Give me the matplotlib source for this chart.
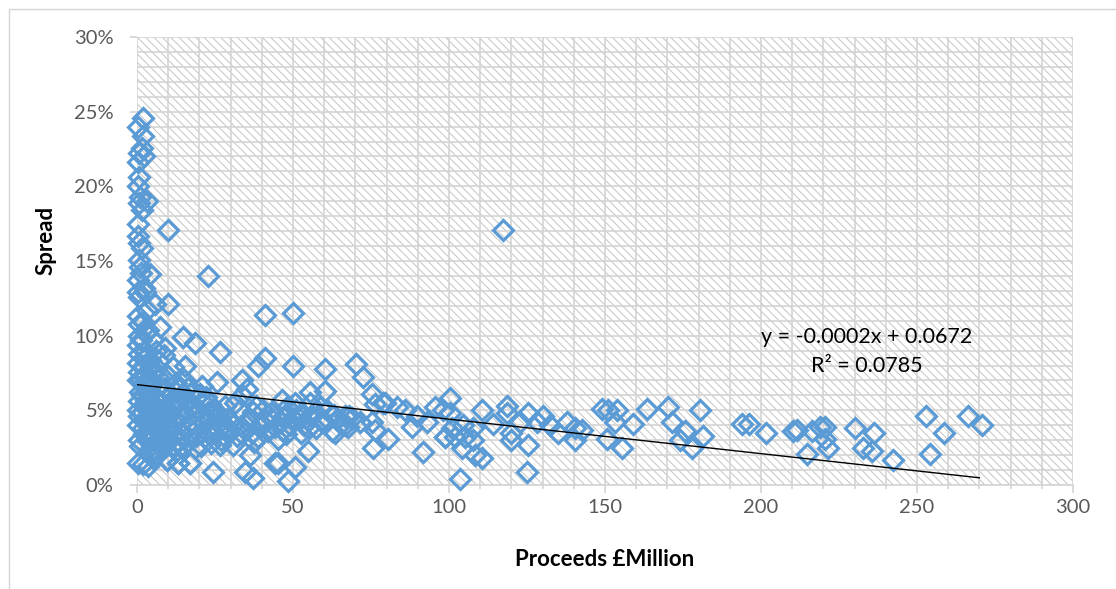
import numpy as np
import matplotlib
matplotlib.use("Agg")
import matplotlib.pyplot as plt
from matplotlib.patches import Rectangle
from matplotlib.ticker import MultipleLocator, PercentFormatter

plt.rcParams['font.family'] = ['Lato', 'DejaVu Sans']
plt.rcParams['hatch.linewidth'] = 0.7

# spread in %, proceeds in £ million
# left column, tiny issues
proceeds_a = [0.3, 0.5, 0.2, 0.8, 0.4, 1.0, 0.6, 0.3, 0.2, 0.7, 0.5, 0.9, 0.4, 0.3, 0.6,
              0.2, 0.8, 0.5, 0.3, 0.7, 0.4, 0.6, 0.2, 0.9, 0.5, 0.3, 0.8, 0.4, 0.6, 0.2]
spread_a = [24.0, 22.2, 21.6, 20.6, 20.0, 19.3, 18.9, 17.5, 16.7, 16.2, 15.1, 14.6, 13.7, 12.9, 12.6,
            11.3, 10.8, 10.0, 9.4, 8.8, 8.2, 7.6, 7.0, 6.2, 5.6, 5.0, 4.6, 4.0, 3.0, 1.5]

proceeds_b = [2.0, 2.0, 1.6, 2.4, 1.6, 3.2, 1.6, 2.6, 1.2, 3.2, 2.2, 1.8, 2.8, 1.4, 2.5, 3.0,
              1.9, 2.7, 1.3, 2.1, 3.4, 1.7, 2.9, 2.3, 1.5, 3.1, 2.6, 1.8, 2.4, 3.3, 1.1, 2.0]
spread_b = [24.6, 23.4, 22.6, 22.0, 18.4, 19.0, 15.9, 12.9, 14.2, 11.7, 13.2, 10.9, 10.2, 9.7, 9.0, 8.6,
            8.0, 7.4, 7.1, 6.8, 6.4, 6.0, 5.7, 5.3, 4.9, 4.5, 4.2, 3.8, 3.4, 3.0, 2.6, 1.4]

proceeds_c = [4.2, 5.8, 7.4, 4.2, 3.6, 5.0, 6.2, 4.6, 7.0, 5.4, 3.8, 6.6, 4.4, 5.2, 7.8, 3.9, 6.0,
              4.8, 5.6, 7.2, 4.0, 6.4, 5.0, 3.7, 7.6, 4.5, 5.9, 6.8, 4.3, 5.3, 7.1, 3.5, 6.1, 4.7,
              5.5, 7.9, 4.1, 6.3, 5.1, 6.9]
spread_c = [14.1, 12.1, 10.6, 8.4, 10.4, 9.8, 9.0, 7.9, 8.3, 7.5, 7.0, 7.2, 6.6, 6.9, 6.3, 6.0, 5.9,
            5.5, 5.2, 5.6, 5.0, 4.9, 4.6, 4.4, 4.5, 4.1, 3.9, 4.0, 3.6, 3.3, 3.5, 3.1, 2.9, 2.7,
            2.4, 2.8, 2.2, 2.0, 1.8, 3.0]

proceeds_d = [9.0, 9.6, 8.5, 11.5, 10.0, 12.6, 8.8, 13.4, 10.8, 9.3, 14.0, 11.2, 12.0, 8.6, 13.0,
              10.4, 9.8, 14.6, 11.8, 12.8, 9.1, 10.6, 13.8, 8.9, 11.0, 12.3, 14.3, 9.5, 10.2, 13.1,
              11.6, 8.4, 12.5, 14.8]
spread_d = [9.2, 1.7, 8.7, 7.9, 7.3, 6.8, 6.5, 6.4, 6.0, 5.8, 5.9, 5.5, 5.3, 5.1, 5.4,
            5.0, 4.7, 4.9, 4.5, 4.3, 4.4, 4.0, 4.1, 3.8, 3.7, 3.5, 3.4, 3.2, 3.0, 2.9,
            2.7, 2.5, 2.3, 2.6]

proceeds_e = [13.1, 17.0, 14.4, 18.6, 15.4, 15.0, 18.0, 16.4, 20.8, 20.2, 19.0, 22.0, 16.8, 21.4,
              17.6, 23.5, 19.6, 24.8, 18.2, 22.6, 25.6, 20.0, 26.4, 17.2, 21.0, 23.0, 27.8, 19.4,
              24.0, 28.5, 22.2, 26.0, 29.4, 18.8, 21.8, 25.0, 27.0, 16.0, 23.8, 20.6]
spread_e = [1.5, 1.5, 2.5, 2.5, 8.0, 7.0, 6.3, 6.5, 6.6, 6.1, 5.8, 5.9, 5.6, 5.5,
            5.2, 5.4, 5.0, 5.1, 4.8, 4.9, 4.7, 4.5, 4.6, 4.2, 4.3, 4.4, 4.1, 3.9,
            4.0, 3.8, 3.6, 3.7, 3.5, 3.3, 3.2, 3.4, 3.0, 2.9, 2.8, 2.6]

proceeds_f = [25.6, 33.7, 35.3, 26.6, 30.8, 31.5, 33.0, 35.6, 37.2, 38.8, 36.0, 39.4, 41.5, 43.0,
              44.2, 42.0, 45.2, 46.0, 47.0, 48.0, 49.0, 44.2, 34.0, 29.0, 32.0, 40.5, 38.0, 36.8,
              42.8, 46.8, 31.0, 28.2, 33.6, 37.6, 47.6]
spread_f = [6.9, 7.0, 6.4, 2.7, 2.7, 5.5, 5.0, 4.2, 4.9, 3.2, 4.5, 3.9, 4.3, 4.8,
            3.9, 3.6, 3.1, 4.2, 4.6, 5.2, 4.0, 1.5, 3.8, 4.4, 3.3, 5.0, 5.3, 3.5,
            4.5, 3.7, 4.1, 5.3, 6.0, 2.9, 3.4]

proceeds_g = [50.0, 51.0, 52.2, 53.0, 54.0, 55.0, 56.0, 57.0, 58.5, 60.3, 62.5, 64.0, 66.7, 68.0,
              52.5, 55.5, 57.5, 59.0, 61.0, 63.0, 65.5, 67.5, 69.0, 50.5, 53.5]
spread_g = [4.5, 5.0, 4.4, 4.8, 4.1, 3.8, 4.6, 4.9, 5.2, 4.2, 3.6, 4.4, 4.0, 4.6,
            3.5, 5.5, 3.8, 4.3, 5.0, 4.7, 4.1, 3.9, 4.5, 5.5, 4.0]

# scattered points up to ~100
proceeds_h = [10.0, 117.3, 22.8, 10.0, 14.7, 18.6, 26.6, 41.0, 50.0, 41.0, 38.8, 50.0, 60.3, 70.2,
              72.4, 55.4, 60.3, 75.3, 46.5, 76.3, 79.5, 83.3, 86.0, 95.5, 71.5, 75.3, 76.3, 75.6,
              80.4, 88.1, 89.7, 93.0, 91.7, 98.7, 24.4, 34.6, 37.2, 36.2, 48.4, 50.6, 45.2, 54.8,
              63.5, 66.7, 78.8, 9.6, 13.1, 17.0, 3.5]
spread_h = [17.1, 17.1, 14.0, 12.1, 9.9, 9.5, 8.9, 11.4, 11.5, 8.5, 8.0, 8.0, 7.8, 8.1,
            7.2, 6.2, 6.3, 6.1, 5.7, 5.4, 5.5, 5.2, 5.0, 5.2, 4.2, 4.2, 3.7, 2.5,
            3.1, 3.9, 4.6, 4.2, 2.2, 3.2, 0.9, 0.9, 0.5, 2.0, 0.3, 1.2, 1.5, 2.3,
            3.5, 4.6, 5.5, 1.7, 1.5, 1.5, 1.3]

proceeds_i = [100.3, 98.0, 100.3, 101.0, 98.7, 102.0, 104.5, 107.7, 105.0, 107.7, 104.2, 108.3,
              110.6, 110.6, 103.5, 114.0, 118.6, 118.6, 120.0, 120.0, 122.8, 125.3, 125.3, 125.0,
              128.2, 130.1, 132.4, 135.0, 137.8, 140.4, 140.4, 142.6]
spread_i = [5.8, 5.0, 4.8, 3.8, 3.2, 3.2, 4.0, 3.8, 3.2, 3.0, 2.5, 2.0,
            1.8, 5.0, 0.4, 4.1, 5.3, 4.8, 3.5, 3.0, 4.2, 4.8, 2.7, 0.9,
            4.2, 4.6, 4.0, 3.5, 4.2, 3.8, 3.0, 3.7]

proceeds_j = [149.0, 151.0, 153.8, 153.2, 150.6, 155.4, 159.0, 163.5, 170.2, 171.5, 175.6, 174.0,
              178.0, 180.4, 181.4, 193.9, 196.0, 201.6, 210.3, 211.5, 214.7, 216.3, 218.9, 220.5,
              220.5, 221.4, 230.0, 232.7, 235.6, 236.2, 242.3, 252.9, 254.2, 258.7, 266.3, 270.8]
spread_j = [5.1, 5.0, 5.0, 4.2, 3.1, 2.5, 4.1, 5.1, 5.2, 4.2, 3.6, 3.0,
            2.5, 5.0, 3.3, 4.1, 4.1, 3.5, 3.6, 3.7, 2.1, 3.6, 3.9, 3.9,
            3.1, 2.5, 3.8, 2.5, 2.3, 3.5, 1.7, 4.6, 2.1, 3.5, 4.6, 4.0]

# linear trend as printed in the chart (line drawn 0 -> 270)
trend_slope = -0.000231
trend_intercept = 0.0672
trend_x = [0, 270]
eq_text = "y = -0.0002x + 0.0672"
r2_text = "R² = 0.0785"

proceeds = np.array(proceeds_a + proceeds_b + proceeds_c + proceeds_d + proceeds_e +
                    proceeds_f + proceeds_g + proceeds_h + proceeds_i + proceeds_j)
spread = np.array(spread_a + spread_b + spread_c + spread_d + spread_e +
                  spread_f + spread_g + spread_h + spread_i + spread_j)

blue = '#5B9BD5'
grid_col = '#d4d4d4'
tick_col = '#595959'

fig = plt.figure(figsize=(11.16, 5.89), dpi=100)
ax = fig.add_axes([137/1116, 1-485/589, 936/1116, 448/589])

# hatched plot area like the excel pattern fill
ax.patch.set_facecolor('white')
ax.patch.set_hatch('\\\\\\\\')
ax.patch.set_edgecolor('#c4c4c4')

ax.plot(proceeds, spread, linestyle='none', marker='D', markersize=10.5,
        markerfacecolor='none', markeredgecolor=blue, markeredgewidth=2.3,
        zorder=3, clip_on=False)

tx = np.array(trend_x)
ax.plot(tx, (trend_intercept + trend_slope*tx)*100, color='black', lw=1.0, zorder=4)

ax.text(234, 9.9, eq_text, ha='center', va='center', fontsize=15.5, color='black', zorder=5)
ax.text(234, 8.0, r2_text, ha='center', va='center', fontsize=15.5, color='black', zorder=5)

ax.set_xlim(0, 300)
ax.set_ylim(0, 30)
ax.xaxis.set_major_locator(MultipleLocator(50))
ax.xaxis.set_minor_locator(MultipleLocator(10))
ax.yaxis.set_major_locator(MultipleLocator(5))
ax.yaxis.set_minor_locator(MultipleLocator(1))
ax.yaxis.set_major_formatter(PercentFormatter(100, decimals=0))

ax.grid(True, which='both', color=grid_col, lw=1.2, zorder=1)
ax.set_axisbelow(True)
for s in ax.spines.values():
    s.set_visible(False)
ax.spines['bottom'].set_visible(True)
ax.spines['bottom'].set_color(grid_col)
ax.spines['bottom'].set_linewidth(1.2)

ax.tick_params(axis='x', which='major', length=6, color=grid_col, width=1.2,
               labelsize=14.5, labelcolor=tick_col, pad=4)
ax.tick_params(axis='x', which='minor', length=3, color=grid_col, width=1.2)
ax.tick_params(axis='y', which='major', length=5, color=grid_col, width=1.2,
               labelsize=14.5, labelcolor=tick_col, pad=12)
ax.tick_params(axis='y', which='minor', length=0)

ax.set_xlabel('Proceeds £Million', fontsize=16, fontweight='bold')
ax.set_ylabel('Spread', fontsize=16, fontweight='bold')
ax.xaxis.set_label_coords(0.5, -0.143)
ax.yaxis.set_label_coords(-0.0855, 0.545)

# chart outline
fig.patches.append(Rectangle((9/1116, -0.1), 1.2, 1.1 - 9/589, transform=fig.transFigure,
                             fill=False, edgecolor=grid_col, lw=1.0))

fig.savefig('out.png', dpi=100)
